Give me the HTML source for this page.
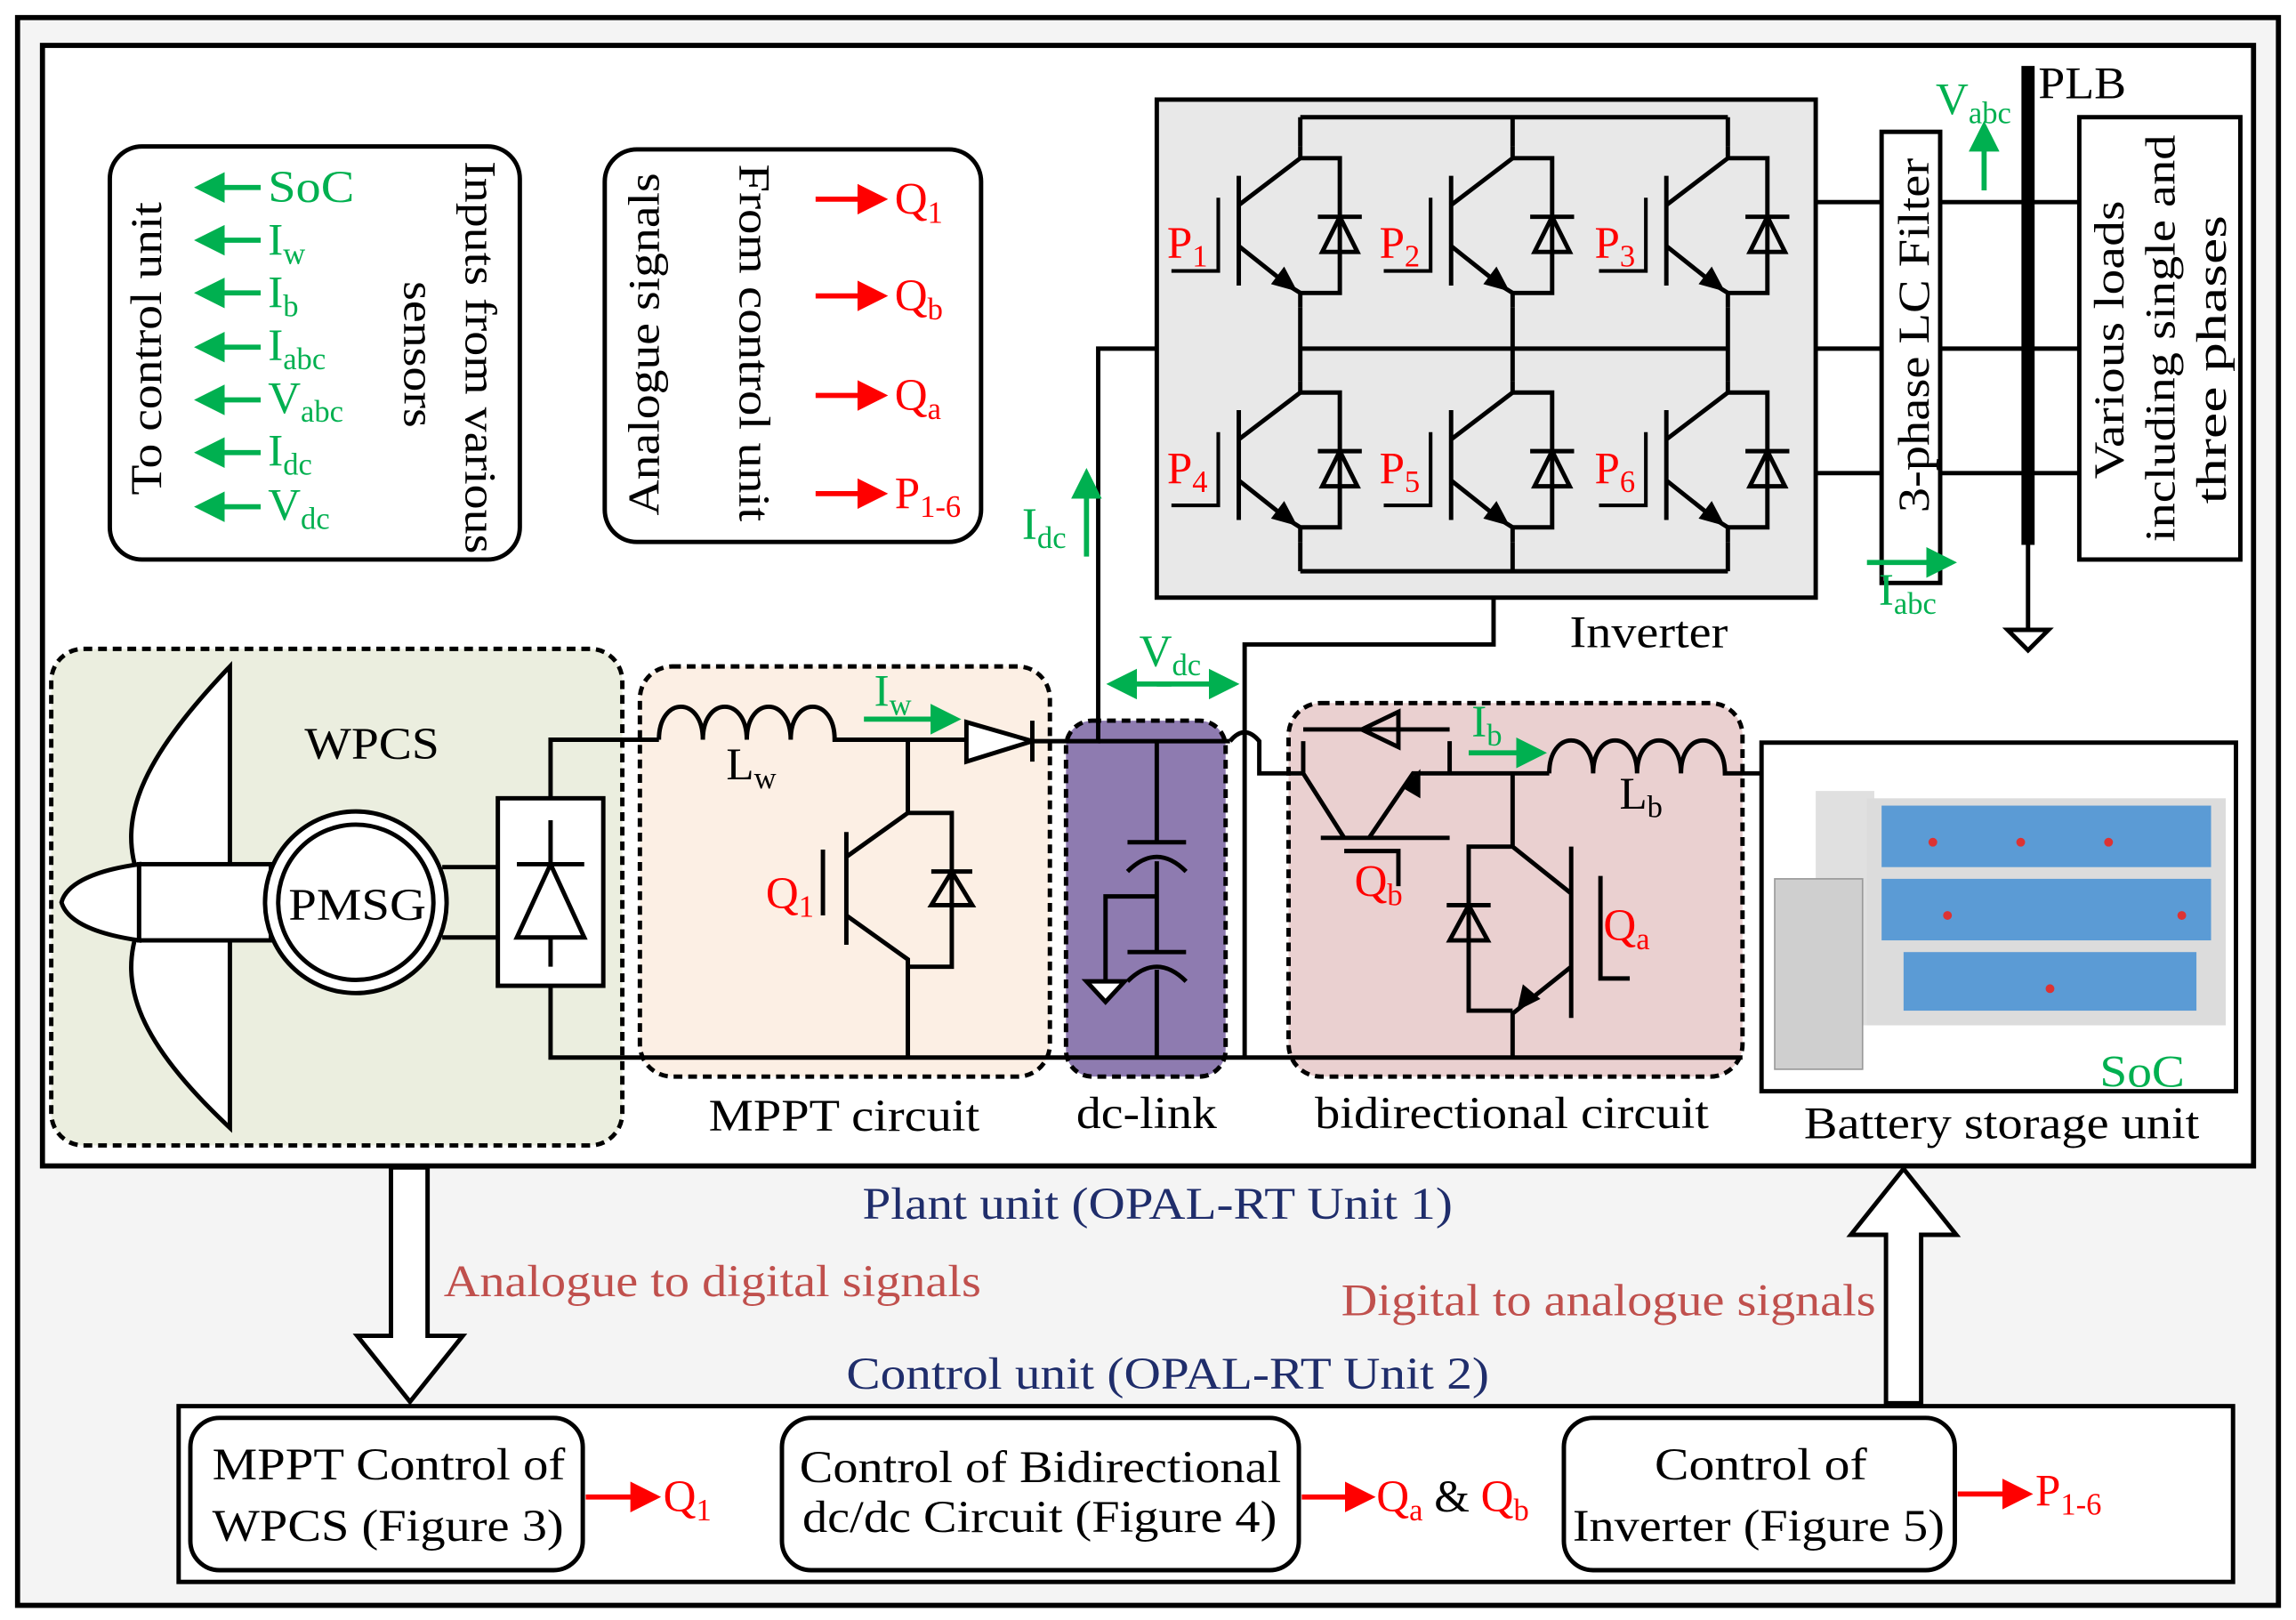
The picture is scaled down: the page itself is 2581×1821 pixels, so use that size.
<!DOCTYPE html>
<html><head><meta charset="utf-8"><style>
html,body{margin:0;padding:0;background:#fff}
svg{display:block}
text{font-family:"Liberation Serif",serif}
</style></head><body>
<svg width="2581" height="1821" viewBox="0 0 1568 1106" preserveAspectRatio="none" xmlns="http://www.w3.org/2000/svg">
<defs>
<marker id="ag" markerWidth="6" markerHeight="6" refX="5" refY="3" orient="auto" markerUnits="strokeWidth"><path d="M0,0 L6,3 L0,6 z" fill="#00b050"/></marker>
<marker id="ar" markerWidth="6" markerHeight="6" refX="5" refY="3" orient="auto" markerUnits="strokeWidth"><path d="M0,0 L6,3 L0,6 z" fill="#ff0000"/></marker>
</defs>
<rect x="12" y="12" width="1544" height="1084" fill="#f4f4f4" stroke="#000" stroke-width="3.5"/>
<rect x="29" y="31" width="1510" height="765" fill="#fff" stroke="#000" stroke-width="3.5"/>

<!-- sensors box -->
<rect x="75" y="100" width="280" height="282" rx="22" fill="#fff" stroke="#000" stroke-width="3"/>
<text transform="translate(110,338) rotate(-90)" font-size="30" textLength="200" lengthAdjust="spacingAndGlyphs">To control unit</text>
<text transform="translate(318,110) rotate(90)" font-size="30" textLength="268" lengthAdjust="spacingAndGlyphs">Inputs from various</text>
<text transform="translate(276,192) rotate(90)" font-size="30" textLength="100" lengthAdjust="spacingAndGlyphs">sensors</text>
<g stroke="#00b050" stroke-width="3.5" marker-end="url(#ag)">
<line x1="178" y1="128" x2="136" y2="128"/><line x1="178" y1="164" x2="136" y2="164"/>
<line x1="178" y1="200" x2="136" y2="200"/><line x1="178" y1="237" x2="136" y2="237"/>
<line x1="178" y1="273" x2="136" y2="273"/><line x1="178" y1="309" x2="136" y2="309"/>
<line x1="178" y1="346" x2="136" y2="346"/></g>
<g fill="#00b050" font-size="31">
<text x="183" y="138" textLength="59" lengthAdjust="spacingAndGlyphs">SoC</text>
<text x="183" y="174">I<tspan font-size="21" dy="6">w</tspan></text>
<text x="183" y="210">I<tspan font-size="21" dy="6">b</tspan></text>
<text x="183" y="246">I<tspan font-size="21" dy="6">abc</tspan></text>
<text x="183" y="282">V<tspan font-size="21" dy="6">abc</tspan></text>
<text x="183" y="318">I<tspan font-size="21" dy="6">dc</tspan></text>
<text x="183" y="355">V<tspan font-size="21" dy="6">dc</tspan></text></g>

<!-- analogue box -->
<rect x="413" y="102" width="257" height="268" rx="22" fill="#fff" stroke="#000" stroke-width="3"/>
<text transform="translate(450,352) rotate(-90)" font-size="30" textLength="234" lengthAdjust="spacingAndGlyphs">Analogue signals</text>
<text transform="translate(505,112) rotate(90)" font-size="30" textLength="244" lengthAdjust="spacingAndGlyphs">From control unit</text>
<g stroke="#ff0000" stroke-width="3.5" marker-end="url(#ar)">
<line x1="557" y1="136" x2="603" y2="136"/><line x1="557" y1="202" x2="603" y2="202"/>
<line x1="557" y1="270" x2="603" y2="270"/><line x1="557" y1="337" x2="603" y2="337"/></g>
<g fill="#ff0000" font-size="31">
<text x="611" y="146">Q<tspan font-size="21" dy="6">1</tspan></text>
<text x="611" y="212">Q<tspan font-size="21" dy="6">b</tspan></text>
<text x="611" y="280">Q<tspan font-size="21" dy="6">a</tspan></text>
<text x="611" y="347">P<tspan font-size="21" dy="6">1-6</tspan></text></g>

<!-- inverter -->
<rect x="790" y="68" width="450" height="340" fill="#e8e8e8" stroke="#000" stroke-width="3"/>
<g stroke="#000" stroke-width="3" fill="none">
<path d="M888,80 H1180 M888,390 H1180"/>
<path d="M888,80 V100 M1033,80 V100 M1180,80 V100"/>
<path d="M888,370 V390 M1033,370 V390 M1180,370 V390"/>
<path d="M888,210 V260 M1033,210 V260 M1180,210 V260"/>
<path d="M888,238 H1033 M1033,238 H1180"/>
<path d="M1240,138 H1285 M1240,238 H1285 M1240,323 H1285"/>
<path d="M1325,138 H1420 M1325,238 H1420 M1325,323 H1420"/>
</g>
<g id="sw">
<g stroke="#000" stroke-width="3" fill="none">
<path d="M888,100 L888,108 L846,140 M846,120 V195 M846,168 L880,195 L888,200 V210"/>
<path d="M832,135 V185 H800" stroke-width="2.5"/>
<path d="M888,108 H915 V200 H888"/>
<path d="M903,172 L915,148 L927,172 Z M900,148 H930"/>
</g>
<path d="M886,199 L868,194 L877,182 Z" fill="#000"/>
</g>
<use href="#sw" x="145"/><use href="#sw" x="292"/>
<use href="#sw" y="160"/><use href="#sw" x="145" y="160"/><use href="#sw" x="292" y="160"/>
<g fill="#ff0000" font-size="31">
<text x="797" y="176">P<tspan font-size="21" dy="6">1</tspan></text>
<text x="942" y="176">P<tspan font-size="21" dy="6">2</tspan></text>
<text x="1089" y="176">P<tspan font-size="21" dy="6">3</tspan></text>
<text x="797" y="330">P<tspan font-size="21" dy="6">4</tspan></text>
<text x="942" y="330">P<tspan font-size="21" dy="6">5</tspan></text>
<text x="1089" y="330">P<tspan font-size="21" dy="6">6</tspan></text></g>
<text x="1072" y="442" font-size="31" textLength="108" lengthAdjust="spacingAndGlyphs">Inverter</text>

<rect x="1285" y="90" width="40" height="308" fill="#fff" stroke="#000" stroke-width="3"/>
<text transform="translate(1317,350) rotate(-90)" font-size="30" textLength="242" lengthAdjust="spacingAndGlyphs">3-phase LC Filter</text>
<line x1="1385" y1="45" x2="1385" y2="372" stroke="#000" stroke-width="9"/>
<path d="M1385,372 V430 M1371,430 H1399 L1385,444 Z" stroke="#000" stroke-width="3" fill="#fff"/>
<text x="1392" y="67" font-size="31" textLength="60" lengthAdjust="spacingAndGlyphs">PLB</text>
<line x1="1355" y1="130" x2="1355" y2="86" stroke="#00b050" stroke-width="3.5" marker-end="url(#ag)"/>
<text x="1322" y="78" fill="#00b050" font-size="31">V<tspan font-size="21" dy="6">abc</tspan></text>
<line x1="1275" y1="384" x2="1333" y2="384" stroke="#00b050" stroke-width="3.5" marker-end="url(#ag)"/>
<text x="1283" y="413" fill="#00b050" font-size="31">I<tspan font-size="21" dy="6">abc</tspan></text>
<rect x="1420" y="80" width="110" height="302" fill="#fff" stroke="#000" stroke-width="3"/>
<text transform="translate(1450,327) rotate(-90)" font-size="29" textLength="190" lengthAdjust="spacingAndGlyphs">Various loads</text>
<text transform="translate(1485,370) rotate(-90)" font-size="29" textLength="278" lengthAdjust="spacingAndGlyphs">including single and</text>
<text transform="translate(1520,344) rotate(-90)" font-size="29" textLength="197" lengthAdjust="spacingAndGlyphs">three phases</text>

<!-- lower region boxes -->
<rect x="35" y="443" width="390" height="339" rx="22" fill="#ebeedf" stroke="#000" stroke-width="3" stroke-dasharray="6,4"/>
<rect x="437" y="455" width="280" height="280" rx="22" fill="#fcefe4" stroke="#000" stroke-width="3" stroke-dasharray="6,4"/>
<rect x="728" y="492" width="109" height="243" rx="18" fill="#8e7bb0" stroke="#000" stroke-width="3" stroke-dasharray="6,4"/>
<rect x="880" y="480" width="310" height="255" rx="22" fill="#ead0d0" stroke="#000" stroke-width="3" stroke-dasharray="6,4"/>

<!-- turbine -->
<g stroke="#000" stroke-width="3" fill="#fff">
<path d="M157,455 L157,600 L95,600 C80,560 95,520 157,455 Z"/>
<path d="M157,770 L157,632 L95,632 C80,672 95,712 157,770 Z"/>
<path d="M95,590 C60,595 45,605 42,616 C45,627 60,637 95,642 Z"/>
<rect x="95" y="590" width="90" height="52"/>
<circle cx="243" cy="616" r="62"/><circle cx="243" cy="616" r="53"/>
<path d="M302,592 H340 M302,640 H340"/>
<rect x="340" y="545" width="72" height="128"/>
</g>
<text x="197" y="628" font-size="31" textLength="94" lengthAdjust="spacingAndGlyphs">PMSG</text>
<text x="208" y="518" font-size="31" textLength="92" lengthAdjust="spacingAndGlyphs">WPCS</text>
<g stroke="#000" stroke-width="3" fill="none">
<path d="M353,640 L376,590 L399,640 Z M353,590 H399 M376,560 V590 M376,640 V660"/>
<path d="M376,545 V505 H450 M376,673 V722 H1190"/>
<path d="M450,505 c0,-30 30,-30 30,0 c0,-30 30,-30 30,0 c0,-30 30,-30 30,0 c0,-30 30,-30 30,0 H660"/>
<path d="M660,493 V520 L705,506 Z M705,492 V520" fill="#fff"/>
<path d="M705,506 H750 V238 H790"/>
<path d="M620,506 V555 M620,555 L578,585 M578,568 V645 M578,625 L620,655 V722"/>
<path d="M562,580 V625" />
<path d="M620,555 H650 V660 H620 M636,618 L650,595 L664,618 Z M636,595 H664"/>
<path d="M750,506 H840 M790,506 V575 M770,575 H810 M770,595 Q790,575 810,595 M790,588 V612 H755 V670 M790,612 V650 M770,650 H810 M770,670 Q790,650 810,670 M790,662 V722"/>
<path d="M742,670 H768 L755,684 Z" fill="#fff"/>
<path d="M850,722 V440 H1020 V408"/>
<path d="M840,506 q10,-12 20,0 V528 H890"/>
<path d="M890,506 V528 M890,528 L918,572 M902,572 H990 M918,581 H955 V605 M935,572 L965,528 H990 V506 M990,528 H1058"/>
<path d="M990,498 H890 M930,498 L955,486 V510 Z M955,486 V510"/>
<path d="M1058,528 c0,-30 30,-30 30,0 c0,-30 30,-30 30,0 c0,-30 30,-30 30,0 c0,-30 30,-30 30,0 H1203"/>
<path d="M1033,528 V578 L1073,610 M1073,578 V695 M1093,598 V668 H1113 M1073,660 L1033,692 V722 M1033,578 H1003 V690 H1033"/>
<path d="M990,642 L1003,618 L1016,642 Z M988,618 H1018"/>
</g>
<path d="M970,525 L970,545 L958,538 Z M1036,690 L1040,672 L1052,682 Z" fill="#000"/>
<path d="M657,619 L650,606 L643,619 Z" fill="none"/>
<text x="496" y="532" font-size="31">L<tspan font-size="21" dy="6">w</tspan></text>
<text x="1106" y="552" font-size="31">L<tspan font-size="21" dy="6">b</tspan></text>
<text x="523" y="620" fill="#f00" font-size="31">Q<tspan font-size="21" dy="6">1</tspan></text>
<text x="925" y="612" fill="#f00" font-size="31">Q<tspan font-size="21" dy="6">b</tspan></text>
<text x="1095" y="642" fill="#f00" font-size="31">Q<tspan font-size="21" dy="6">a</tspan></text>
<line x1="590" y1="491" x2="653" y2="491" stroke="#00b050" stroke-width="3.5" marker-end="url(#ag)"/>
<text x="597" y="482" fill="#00b050" font-size="31">I<tspan font-size="21" dy="6">w</tspan></text>
<line x1="1003" y1="514" x2="1053" y2="514" stroke="#00b050" stroke-width="3.5" marker-end="url(#ag)"/>
<text x="1005" y="503" fill="#00b050" font-size="31">I<tspan font-size="21" dy="6">b</tspan></text>
<line x1="742" y1="380" x2="742" y2="323" stroke="#00b050" stroke-width="3.5" marker-end="url(#ag)"/>
<text x="698" y="368" fill="#00b050" font-size="31">I<tspan font-size="21" dy="6">dc</tspan></text>
<line x1="790" y1="467" x2="843" y2="467" stroke="#00b050" stroke-width="3.5" marker-end="url(#ag)"/>
<line x1="800" y1="467" x2="759" y2="467" stroke="#00b050" stroke-width="3.5" marker-end="url(#ag)"/>
<text x="778" y="455" fill="#00b050" font-size="31">V<tspan font-size="21" dy="6">dc</tspan></text>

<text x="484" y="772" font-size="31" textLength="185" lengthAdjust="spacingAndGlyphs">MPPT circuit</text>
<text x="735" y="770" font-size="31" textLength="96" lengthAdjust="spacingAndGlyphs">dc-link</text>
<text x="898" y="770" font-size="31" textLength="269" lengthAdjust="spacingAndGlyphs">bidirectional circuit</text>

<!-- battery -->
<rect x="1203" y="507" width="324" height="238" fill="#fff" stroke="#000" stroke-width="3"/>
<rect x="1240" y="540" width="40" height="160" fill="#e0e0e0"/>
<rect x="1275" y="545" width="245" height="155" fill="#dcdcdc"/>
<g fill="#5b9bd5">
<rect x="1285" y="550" width="225" height="42"/><rect x="1285" y="600" width="225" height="42"/><rect x="1300" y="650" width="200" height="40"/></g>
<g fill="#d33"><circle cx="1320" cy="575" r="3"/><circle cx="1380" cy="575" r="3"/><circle cx="1440" cy="575" r="3"/><circle cx="1490" cy="625" r="3"/><circle cx="1330" cy="625" r="3"/><circle cx="1400" cy="675" r="3"/></g>
<rect x="1212" y="600" width="60" height="130" fill="#cfcfcf" stroke="#999"/>
<text x="1434" y="742" fill="#00b050" font-size="31" textLength="58" lengthAdjust="spacingAndGlyphs">SoC</text>
<text x="1232" y="777" font-size="31" textLength="270" lengthAdjust="spacingAndGlyphs">Battery storage unit</text>

<text x="589" y="832" fill="#1f2d6b" font-size="31" textLength="403" lengthAdjust="spacingAndGlyphs">Plant unit (OPAL-RT Unit 1)</text>
<text x="303" y="885" fill="#c0504d" font-size="31" textLength="367" lengthAdjust="spacingAndGlyphs">Analogue to digital signals</text>
<text x="916" y="898" fill="#c0504d" font-size="31" textLength="365" lengthAdjust="spacingAndGlyphs">Digital to analogue signals</text>
<text x="578" y="948" fill="#1f2d6b" font-size="31" textLength="439" lengthAdjust="spacingAndGlyphs">Control unit (OPAL-RT Unit 2)</text>

<path d="M267,797 H292 V912 H316 L280,957 L244,912 H267 Z" fill="#fff" stroke="#000" stroke-width="3"/>
<path d="M1288,958 H1312 V843 H1336 L1300,798 L1264,843 H1288 Z" fill="#fff" stroke="#000" stroke-width="3"/>

<rect x="122" y="960" width="1403" height="120" fill="#fff" stroke="#000" stroke-width="3"/>
<rect x="130" y="968" width="268" height="104" rx="20" fill="#fff" stroke="#000" stroke-width="3"/>
<rect x="534" y="968" width="353" height="104" rx="20" fill="#fff" stroke="#000" stroke-width="3"/>
<rect x="1068" y="968" width="267" height="104" rx="20" fill="#fff" stroke="#000" stroke-width="3"/>
<g font-size="31">
<text x="145" y="1010" textLength="241" lengthAdjust="spacingAndGlyphs">MPPT Control of</text><text x="145" y="1052" textLength="240" lengthAdjust="spacingAndGlyphs">WPCS (Figure 3)</text>
<text x="546" y="1012" textLength="329" lengthAdjust="spacingAndGlyphs">Control of Bidirectional</text><text x="548" y="1046" textLength="324" lengthAdjust="spacingAndGlyphs">dc/dc Circuit (Figure 4)</text>
<text x="1130" y="1010" textLength="145" lengthAdjust="spacingAndGlyphs">Control of</text><text x="1074" y="1052" textLength="254" lengthAdjust="spacingAndGlyphs">Inverter (Figure 5)</text></g>
<g stroke="#ff0000" stroke-width="3.5" marker-end="url(#ar)">
<line x1="400" y1="1022" x2="448" y2="1022"/><line x1="889" y1="1022" x2="936" y2="1022"/><line x1="1337" y1="1020" x2="1385" y2="1020"/></g>
<text x="453" y="1032" fill="#f00" font-size="31">Q<tspan font-size="21" dy="6">1</tspan></text>
<text x="940" y="1032" font-size="31"><tspan fill="#f00">Q<tspan font-size="21" dy="6">a</tspan></tspan><tspan dy="-6"> &amp; </tspan><tspan fill="#f00">Q<tspan font-size="21" dy="6">b</tspan></tspan></text>
<text x="1390" y="1028" fill="#f00" font-size="31">P<tspan font-size="21" dy="6">1-6</tspan></text>
</svg>
</body></html>
